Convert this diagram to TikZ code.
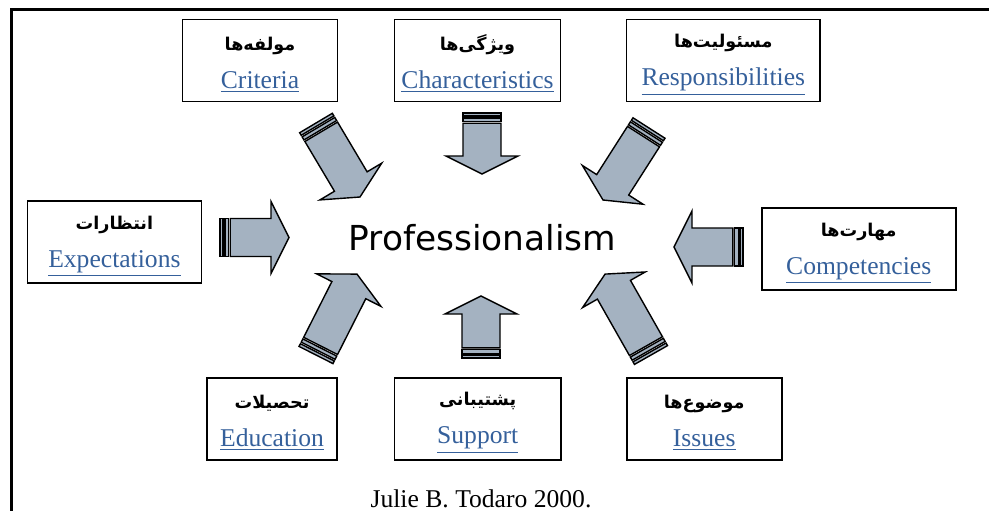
\documentclass[tikz,border=0pt]{standalone}
\usepackage{fontspec}
\setmainfont{Liberation Serif}
\newfontfamily\fafont[Script=Arabic]{DejaVu Sans}
\newfontfamily\profont{DejaVu Sans}
\TeXXeTstate=1

\definecolor{linkblue}{HTML}{35609B}
\definecolor{arrowfill}{HTML}{A4B2C1}

\newcommand\fa[1]{{\fafont\bfseries\fontsize{8.8}{11}\selectfont\rule{0pt}{11pt}\beginR #1\endR}}
\newcommand\lnk[1]{{\color{linkblue}\underline{#1}}}

\tikzset{
  box/.style={draw, line width=0.9pt, minimum height=41pt, align=center,
    inner sep=0pt, font=\fontsize{12.8}{15}\selectfont},
  blockarrow/.style={draw, fill=arrowfill, line width=0.7pt, line join=miter},
  pics/stripearrow/.style={code={
    \path[blockarrow] (0pt,-9.5pt) rectangle (1.5pt,9.5pt);
    \path[blockarrow] (2.4pt,-9.5pt) rectangle (4.2pt,9.5pt);
    \path[blockarrow] (5.1pt,-9.5pt) -- ({#1pt-9pt},-9.5pt) -- ({#1pt-9pt},-18pt)
      -- (#1pt,0pt) -- ({#1pt-9pt},18pt) -- ({#1pt-9pt},9.5pt) -- (5.1pt,9.5pt) -- cycle;
  }}
}

% striped block arrow from one named coordinate to another
\newcommand\stripedarrow[2]{%
  \pgfmathanglebetweenpoints{\pgfpointanchor{#1}{center}}{\pgfpointanchor{#2}{center}}%
  \let\arrang\pgfmathresult
  \pgfpointdiff{\pgfpointanchor{#1}{center}}{\pgfpointanchor{#2}{center}}%
  \pgfgetlastxy{\arrdx}{\arrdy}%
  \pgfmathveclen{\arrdx}{\arrdy}%
  \let\arrlen\pgfmathresult
  \pic[rotate=\arrang] at (#1) {stripearrow=\arrlen};%
}

\begin{document}
\begin{tikzpicture}[x=0.5pt, y=-0.5pt]
  \useasboundingbox (0,0) rectangle (989,511);
  \draw[line width=1.4pt] (989,9.5) -- (11.5,9.5) -- (11.5,511);

  \node (prof) at (482.5,238) {\profont\fontsize{17.2}{20}\selectfont Professionalism};

  \node[box, minimum width=77.5pt] (crit) at (260,60.5) {\fa{مولفه^^^^200cها}\\[4pt]\lnk{Criteria}};
  \node[box, minimum width=83pt] (char) at (477.5,60.5) {\fa{ویژگی^^^^200cها}\\[4pt]\lnk{Characteristics}};
  \node[box, minimum width=96.75pt] (resp) at (723.3,60.5) {\fa{مسئولیت^^^^200cها}\\[4pt]\lnk{Responsibilities}};
  \node[box, minimum width=87pt] (expe) at (114.4,242) {\fa{انتظارات}\\[4pt]\lnk{Expectations}};
  \node[box, minimum width=97pt] (comp) at (858.7,249) {\fa{مهارت^^^^200cها}\\[4pt]\lnk{Competencies}};
  \node[box, minimum width=64.7pt] (educ) at (272,418.7) {\fa{تحصیلات}\\[4pt]\lnk{Education}};
  \node[box, minimum width=83.3pt] (supp) at (477.7,418.7) {\fa{پشتیبانی}\\[4pt]\lnk{Support}};
  \node[box, minimum width=77.5pt] (issu) at (704.2,418.7) {\fa{موضوع^^^^200cها}\\[4pt]\lnk{Issues}};

  \node[anchor=base, font=\fontsize{12.8}{15}\selectfont] (src) at (481,507) {Julie B. Todaro 2000.};

  % arrow tails (A) and tips (B)
  \coordinate (critA) at (316,123);  \coordinate (critB) at (360,197);
  \coordinate (charA) at (482,113);  \coordinate (charB) at (482,174);
  \coordinate (respA) at (649,128);  \coordinate (respB) at (603,200);
  \coordinate (expeA) at (220,237.5);\coordinate (expeB) at (289,237.5);
  \coordinate (compA) at (743,247);  \coordinate (compB) at (674,247);
  \coordinate (educA) at (316,355);  \coordinate (educB) at (357,274);
  \coordinate (suppA) at (481,358);  \coordinate (suppB) at (481,296);
  \coordinate (issuA) at (651,355);  \coordinate (issuB) at (605,274);

  \stripedarrow{critA}{critB}
  \stripedarrow{charA}{charB}
  \stripedarrow{respA}{respB}
  \stripedarrow{expeA}{expeB}
  \stripedarrow{compA}{compB}
  \stripedarrow{educA}{educB}
  \stripedarrow{suppA}{suppB}
  \stripedarrow{issuA}{issuB}
\end{tikzpicture}
\end{document}
